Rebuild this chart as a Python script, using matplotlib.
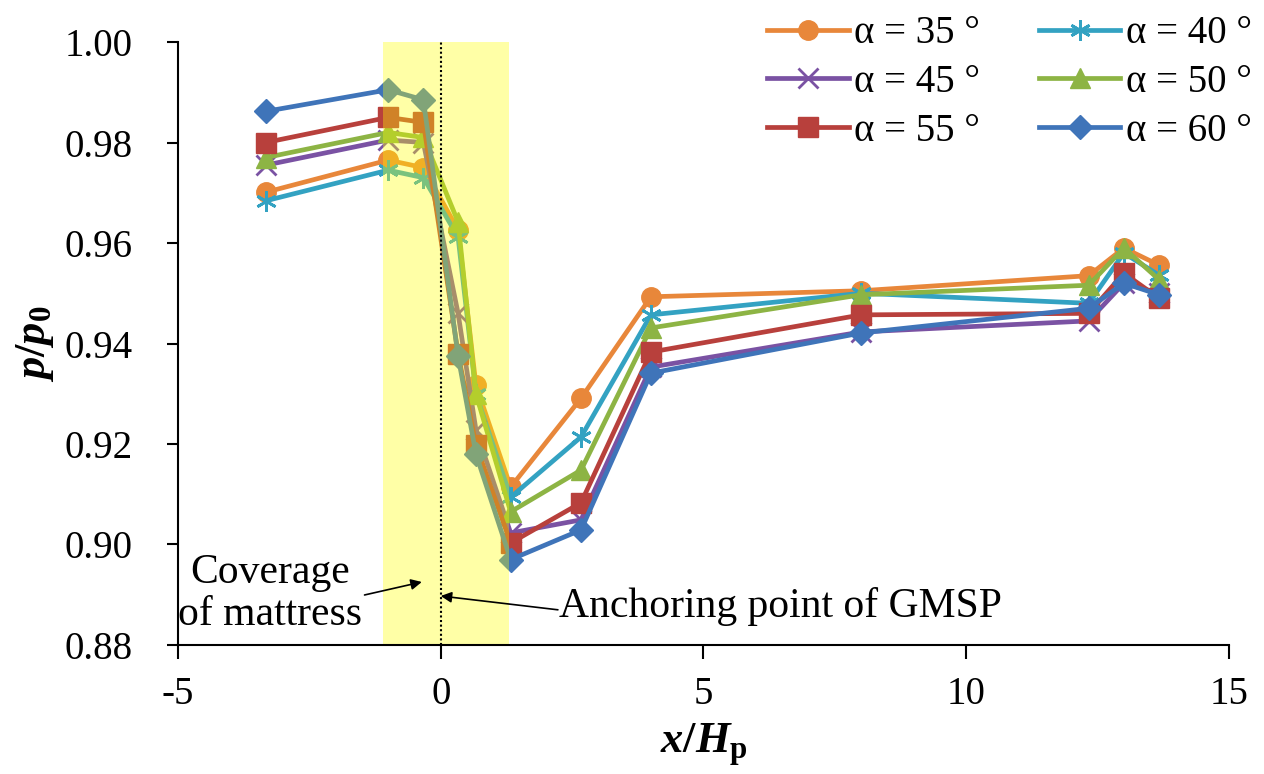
import matplotlib
matplotlib.use("Agg")
import matplotlib.pyplot as plt

SERIF = ['Liberation Serif', 'DejaVu Serif']
plt.rcParams['font.family'] = SERIF
plt.rcParams['axes.unicode_minus'] = False
plt.rcParams['mathtext.fontset'] = 'custom'
plt.rcParams['mathtext.rm'] = 'Liberation Serif:bold'
plt.rcParams['mathtext.it'] = 'Liberation Serif:italic:bold'
plt.rcParams['mathtext.bf'] = 'Liberation Serif:bold'

# x positions (x/Hp)
x = [-3.33, -1.0, -0.33, 0.33, 0.67, 1.33, 2.67, 4.0, 8.0, 12.33, 13.0, 13.67]

labels = ['α = 35 °', 'α = 40 °', 'α = 45 °', 'α = 50 °', 'α = 55 °', 'α = 60 °']

a35 = [0.9701, 0.9765, 0.9750, 0.9626, 0.9317, 0.9114, 0.9291, 0.9493, 0.9505, 0.9535, 0.9590, 0.9556]
a40 = [0.9684, 0.9745, 0.9730, 0.9612, 0.9300, 0.9094, 0.9214, 0.9457, 0.9500, 0.9480, 0.9580, 0.9536]
a45 = [0.9755, 0.9805, 0.9800, 0.9460, 0.9228, 0.9023, 0.9049, 0.9353, 0.9423, 0.9445, 0.9520, 0.9500]
a50 = [0.9770, 0.9820, 0.9810, 0.9642, 0.9300, 0.9065, 0.9148, 0.9431, 0.9497, 0.9516, 0.9590, 0.9527]
a55 = [0.9800, 0.9850, 0.9840, 0.9380, 0.9198, 0.9003, 0.9083, 0.9383, 0.9457, 0.9460, 0.9540, 0.9490]
a60 = [0.9862, 0.9905, 0.9885, 0.9375, 0.9180, 0.8970, 0.9029, 0.9341, 0.9421, 0.9470, 0.9520, 0.9497]

series = [a35, a40, a45, a50, a55, a60]
colors = ['#E8873A', '#33A2C2', '#7A52A3', '#8DB444', '#B8403C', '#3F74B9']
markers = ['o', (6, 2, 0), 'x', '^', 's', 'D']
msizes = [14, 15, 14, 14, 14, 12]

fig = plt.figure(figsize=(12.64, 7.74), dpi=100)
ax = fig.add_axes([0.1408, 0.1667, 0.8315, 0.779])

handles = []
for ys, c, m, ms, lab in zip(series, colors, markers, msizes, labels):
    h, = ax.plot(x, ys, color=c, lw=3.4, marker=m, markersize=ms,
                 markeredgewidth=2 if m in ('x', (6, 2, 0)) else 1,
                 markeredgecolor=c, label=lab, zorder=3)
    handles.append(h)

# mattress coverage band (drawn over the lines, semi transparent)
ax.axvspan(-1.1, 1.3, color='#FFFF00', alpha=0.35, lw=0, zorder=4)
ax.axvline(0, color='black', ls=(0, (1, 1.2)), lw=1.5, zorder=5)

ax.set_xlim(-5, 15)
ax.set_ylim(0.88, 1.00)
ax.set_xticks([-5, 0, 5, 10, 15])
ax.set_yticks([0.88, 0.90, 0.92, 0.94, 0.96, 0.98, 1.00])
ax.set_yticklabels(['%.2f' % v for v in ax.get_yticks()])
ax.tick_params(labelsize=28, width=1.5, length=8, direction='out',
               labelfontfamily='Liberation Serif')
ax.tick_params(axis='x', pad=12, length=10)
ax.tick_params(axis='y', pad=25)
for s in ['top', 'right']:
    ax.spines[s].set_visible(False)
for s in ['left', 'bottom']:
    ax.spines[s].set_linewidth(1.5)
    ax.spines[s].set_zorder(6)

ax.set_xlabel(r'$x/H_{\mathrm{p}}$', fontsize=32, labelpad=6)
ax.set_ylabel(r'$p/p_{\mathrm{0}}$', fontsize=32, labelpad=6)

# annotations
ax.text(-3.24, 0.8902, 'Coverage\nof mattress', fontsize=30, ha='center',
        va='center', linespacing=1.15, zorder=7)
ax.annotate('', xy=(-0.36, 0.89254), xytext=(-1.45, 0.88995),
            arrowprops=dict(arrowstyle='-|>', color='black', lw=1.2,
                            mutation_scale=16, shrinkA=0, shrinkB=0), zorder=7)
ax.text(6.46, 0.8876, 'Anchoring point of GMSP', fontsize=30, ha='center',
        va='center', zorder=7)
ax.annotate('', xy=(0.0, 0.88975), xytext=(2.23, 0.8870),
            arrowprops=dict(arrowstyle='-|>', color='black', lw=1.2,
                            mutation_scale=16, shrinkA=0, shrinkB=0), zorder=7)

# legend filled row by row: reorder for matplotlib's column-wise fill
order = [0, 2, 4, 1, 3, 5]
ax.legend([handles[i] for i in order], [labels[i] for i in order],
          ncol=2, loc='upper right', bbox_to_anchor=(1.037, 1.07), frameon=False,
          prop=dict(family='Liberation Serif', size=28),
          handlelength=2.1, handletextpad=0.15, columnspacing=1.5,
          labelspacing=0.3, borderaxespad=0)

fig.savefig('out.png', dpi=100)
